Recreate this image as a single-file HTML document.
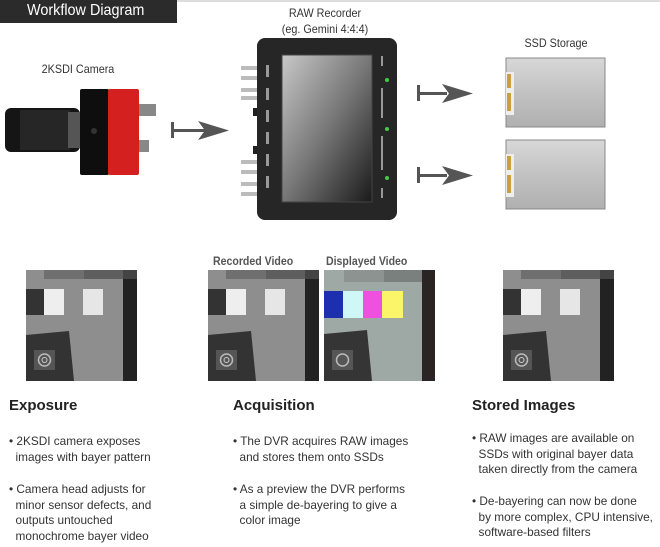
<!DOCTYPE html>
<html><head><meta charset="utf-8"><style>
body{margin:0;width:660px;height:547px;background:#fff;overflow:hidden;position:relative;font-family:"Liberation Sans",sans-serif;color:#333}
.a{position:absolute;white-space:nowrap}
.lbl{font-size:12px;color:#333;transform:scaleX(.9);transform-origin:center}
.h{font-size:15px;font-weight:bold;color:#222}
.t{font-size:11.8px;color:#333;line-height:15.7px}
</style></head><body>
<div class="a" style="left:0;top:0;width:660px;height:2px;background:#ddd"></div>
<div class="a" style="left:0;top:0;width:177px;height:23px;background:#2b2b2b"></div>
<div class="a" style="left:27px;top:2px;color:#fff;font-size:16px;transform:scaleX(.9);transform-origin:left">Workflow Diagram</div>

<div class="a lbl" style="left:28px;top:62px;width:100px;text-align:center">2KSDI Camera</div>
<div class="a lbl" style="left:270px;top:6px;width:110px;text-align:center">RAW Recorder</div>
<div class="a lbl" style="left:260px;top:22px;width:130px;text-align:center">(eg. Gemini 4:4:4)</div>
<div class="a lbl" style="left:506px;top:36px;width:100px;text-align:center">SSD Storage</div>

<svg class="a" style="left:0;top:0" width="660" height="260">
<defs>
<linearGradient id="scr" x1="0" y1="0" x2="1" y2="1"><stop offset="0" stop-color="#c8c8c8"/><stop offset=".5" stop-color="#777"/><stop offset="1" stop-color="#1a1a1a"/></linearGradient>
<linearGradient id="ssd" x1="0" y1="0" x2="0" y2="1"><stop offset="0" stop-color="#d8d8d8"/><stop offset=".5" stop-color="#c2c2c2"/><stop offset="1" stop-color="#b0b0b0"/></linearGradient>
</defs>
<rect x="5" y="108" width="75" height="44" rx="6" fill="#151515"/>
<rect x="20" y="110" width="50" height="40" fill="#262626"/>
<rect x="68" y="112" width="12" height="36" fill="#555"/>
<rect x="80" y="89" width="29" height="86" rx="2" fill="#0e0e0e"/>
<rect x="108" y="89" width="31" height="86" rx="2" fill="#d52020"/>
<circle cx="94" cy="131" r="3" fill="#333"/>
<rect x="139" y="104" width="17" height="12" fill="#888"/>
<rect x="139" y="140" width="10" height="12" fill="#888"/>
<g fill="#555">
<rect x="171" y="122" width="3" height="16"/>
<rect x="171" y="129" width="34" height="3"/>
<polygon points="198,121 229,130.5 198,140 205,130.5"/>
</g>
<g fill="#bbb">
<rect x="241" y="66" width="16" height="4"/><rect x="241" y="76" width="16" height="4"/>
<rect x="241" y="88" width="16" height="4"/><rect x="241" y="96" width="16" height="4"/>
<rect x="241" y="160" width="16" height="4"/><rect x="241" y="170" width="16" height="4"/>
<rect x="241" y="182" width="16" height="4"/><rect x="241" y="192" width="16" height="4"/>
</g>
<rect x="253" y="108" width="5" height="8" fill="#222"/><rect x="253" y="146" width="5" height="8" fill="#222"/>
<rect x="257" y="38" width="140" height="182" rx="8" fill="#262626"/>
<rect x="282" y="55" width="90" height="147" fill="url(#scr)" stroke="#444"/>
<circle cx="387" cy="80" r="2" fill="#4c4"/><circle cx="387" cy="129" r="2" fill="#4c4"/><circle cx="387" cy="178" r="2" fill="#4c4"/>
<g fill="#999"><rect x="266" y="65" width="3" height="12"/><rect x="266" y="88" width="3" height="12"/><rect x="266" y="110" width="3" height="12"/><rect x="266" y="132" width="3" height="12"/><rect x="266" y="154" width="3" height="12"/><rect x="266" y="176" width="3" height="12"/>
<rect x="381" y="56" width="2" height="10"/><rect x="381" y="88" width="2" height="30"/><rect x="381" y="136" width="2" height="34"/><rect x="381" y="188" width="2" height="10"/></g>
<g fill="#555">
<rect x="417" y="85" width="3" height="16"/><rect x="417" y="92" width="30" height="3"/><polygon points="442,84 473,93.5 442,103 449,93.5"/>
<rect x="417" y="167" width="3" height="16"/><rect x="417" y="174" width="30" height="3"/><polygon points="442,166 473,175.5 442,185 449,175.5"/>
</g>
<g>
<rect x="506" y="58" width="99" height="69" fill="url(#ssd)" stroke="#888"/>
<rect x="506" y="72" width="8" height="43" fill="#eee"/>
<rect x="507" y="74" width="4" height="14" fill="#c9a040"/><rect x="507" y="93" width="4" height="18" fill="#c9a040"/>
<rect x="506" y="140" width="99" height="69" fill="url(#ssd)" stroke="#888"/>
<rect x="506" y="154" width="8" height="43" fill="#eee"/>
<rect x="507" y="156" width="4" height="14" fill="#c9a040"/><rect x="507" y="175" width="4" height="18" fill="#c9a040"/>
</g>
</svg>

<div class="a" style="left:213px;top:254px;font-size:12px;font-weight:bold;color:#555;transform:scaleX(.88);transform-origin:left">Recorded Video</div>
<div class="a" style="left:326px;top:254px;font-size:12px;font-weight:bold;color:#555;transform:scaleX(.88);transform-origin:left">Displayed Video</div>

<svg class="a" style="left:0;top:270px" width="660" height="112">
<defs>
<g id="tile">
<rect width="111" height="111" fill="#8e8e8e"/>
<rect x="18" y="0" width="40" height="9" fill="#6f6f6f"/><rect x="58" y="0" width="40" height="9" fill="#5e5e5e"/>
<rect x="97" y="0" width="14" height="111" fill="#222"/><rect x="97" y="0" width="14" height="9" fill="#444"/>
<rect x="0" y="19" width="18" height="26" fill="#333"/>
<rect x="18" y="19" width="20" height="26" fill="#eee"/>
<rect x="57" y="19" width="20" height="26" fill="#e6e6e6"/>
<polygon points="0,65 43,61 48,111 0,111" fill="#333"/>
<rect x="8" y="80" width="21" height="20" fill="#555"/><circle cx="18.5" cy="90" r="6" fill="none" stroke="#bbb" stroke-width="1.5"/><circle cx="18.5" cy="90" r="2.5" fill="none" stroke="#ccc"/>
</g>
</defs>
<use href="#tile" x="26"/>
<use href="#tile" x="208"/>
<use href="#tile" x="503"/>
<g transform="translate(324,0)">
<rect width="111" height="111" fill="#9ea9a6"/>
<rect x="20" y="0" width="40" height="12" fill="#8c9390"/><rect x="60" y="0" width="38" height="12" fill="#7a807e"/>
<rect x="98" y="0" width="13" height="111" fill="#2a2424"/>
<rect x="0" y="21" width="19" height="27" fill="#1c2fae"/>
<rect x="19" y="21" width="20" height="27" fill="#cff7f7"/>
<rect x="39" y="21" width="19" height="27" fill="#f050e0"/>
<rect x="58" y="21" width="21" height="27" fill="#fbf56a"/>
<polygon points="0,64 43,60 48,111 0,111" fill="#353535"/>
<rect x="8" y="80" width="21" height="20" fill="#565656"/><circle cx="18.5" cy="90" r="6" fill="none" stroke="#bbb" stroke-width="1.5"/>
</g>
</svg>

<div class="a h" style="left:9px;top:397px">Exposure</div>
<div class="a h" style="left:233px;top:397px">Acquisition</div>
<div class="a h" style="left:472px;top:397px">Stored Images</div>

<div class="a t" style="left:9px;top:434px">• 2KSDI camera exposes<br>&nbsp;&nbsp;images with bayer pattern</div>
<div class="a t" style="left:9px;top:482px">• Camera head adjusts for<br>&nbsp;&nbsp;minor sensor defects, and<br>&nbsp;&nbsp;outputs untouched<br>&nbsp;&nbsp;monochrome bayer video</div>

<div class="a t" style="left:233px;top:434px">• The DVR acquires RAW images<br>&nbsp;&nbsp;and stores them onto SSDs</div>
<div class="a t" style="left:233px;top:482px">• As a preview the DVR performs<br>&nbsp;&nbsp;a simple de-bayering to give a<br>&nbsp;&nbsp;color image</div>

<div class="a t" style="left:472px;top:431px">• RAW images are available on<br>&nbsp;&nbsp;SSDs with original bayer data<br>&nbsp;&nbsp;taken directly from the camera</div>
<div class="a t" style="left:472px;top:494px">• De-bayering can now be done<br>&nbsp;&nbsp;by more complex, CPU intensive,<br>&nbsp;&nbsp;software-based filters</div>
</body></html>
